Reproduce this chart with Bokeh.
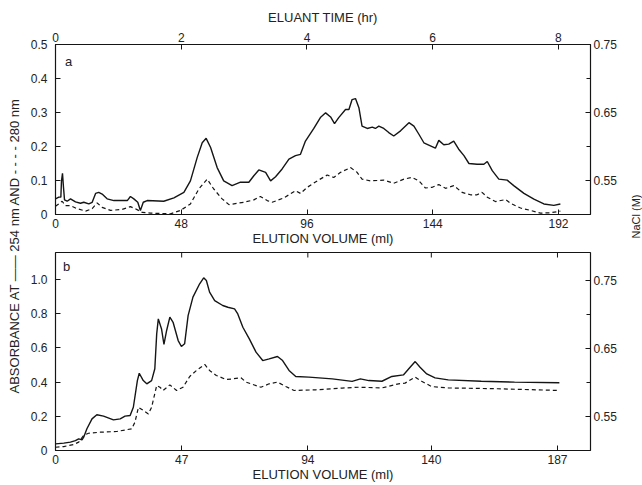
from math import pi
from bokeh.plotting import figure
from bokeh.models import Range1d, LinearAxis, FixedTicker, Label, PrintfTickFormatter
from bokeh.layouts import row, column
from bokeh.embed import file_html
from bokeh.resources import INLINE

# ---------------- data ----------------
# Panel a : elution volume (ml) vs absorbance
a_vol_254 = [0, 1.27, 2.04, 2.29, 2.67, 3.05, 3.44, 4.45, 5.73, 7.63, 9.54, 10.8, 12.7, 14.0,
             15.3, 16.5, 17.8, 19.7, 22.3, 27.4, 28.6, 29.9, 31.4, 32.4, 33.5, 35.0, 41.3,
             45.2, 49.0, 51.5, 54.1, 56.0, 57.5, 59.2, 61.7, 64.2, 67.4, 70.6, 73.8, 75.7,
             77.6, 80.2, 82.1, 84.0, 86.5, 89.1, 91.6, 93.5, 95.4, 98.6, 101.1, 103.1, 105.0,
             106.5, 108.1, 110.7, 112.0, 113.2, 114.5, 115.8, 117.0, 119.0, 120.9, 122.1,
             123.4, 125.3, 127.2, 129.1, 131.7, 134.9, 136.8, 138.7, 140.6, 143.1, 145.0,
             146.3, 148.2, 150.1, 152.0, 153.9, 155.9, 157.8, 160.9, 163.5, 164.8, 166.7,
             169.2, 172.4, 174.9, 178.8, 182.6, 186.4, 190.2, 192.7]
a_abs_254 = [0.046, 0.051, 0.051, 0.099, 0.121, 0.080, 0.043, 0.039, 0.046, 0.037, 0.033, 0.036,
             0.031, 0.036, 0.062, 0.065, 0.060, 0.046, 0.041, 0.041, 0.053, 0.046, 0.036, 0.012,
             0.036, 0.041, 0.039, 0.049, 0.065, 0.099, 0.168, 0.211, 0.224, 0.197, 0.138, 0.099,
             0.085, 0.095, 0.095, 0.114, 0.131, 0.124, 0.099, 0.111, 0.134, 0.163, 0.173, 0.177,
             0.216, 0.253, 0.285, 0.299, 0.287, 0.267, 0.285, 0.309, 0.309, 0.338, 0.341, 0.314,
             0.260, 0.253, 0.257, 0.253, 0.260, 0.253, 0.241, 0.231, 0.246, 0.270, 0.260, 0.236,
             0.211, 0.202, 0.195, 0.218, 0.205, 0.207, 0.216, 0.192, 0.173, 0.150, 0.148, 0.148,
             0.156, 0.129, 0.104, 0.101, 0.085, 0.062, 0.045, 0.031, 0.027, 0.031]
a_vol_280 = [0, 2.54, 3.82, 5.73, 8.27, 11.5, 14.0, 15.9, 17.8, 21.0, 25.4, 28.6, 30.5, 33.1,
             36.3, 43.9, 47.7, 51.5, 54.7, 57.9, 60.4, 63.6, 66.2, 71.9, 75.7, 78.2, 80.8, 82.7,
             87.2, 91.6, 93.5, 96.1, 99.9, 103.7, 106.2, 108.8, 112.6, 115.1, 117.0, 120.2,
             125.3, 129.1, 133.0, 136.1, 138.7, 141.2, 143.8, 146.3, 148.9, 152.0, 155.2, 158.4,
             160.9, 162.8, 164.8, 167.9, 171.8, 173.7, 177.5, 181.3, 185.1, 188.9, 192.7]
a_abs_280 = [0.024, 0.039, 0.026, 0.026, 0.017, 0.010, 0.017, 0.034, 0.021, 0.012, 0.015, 0.023,
             0.017, 0.006, 0.004, 0.002, 0.012, 0.031, 0.075, 0.104, 0.075, 0.046, 0.029, 0.036,
             0.043, 0.053, 0.041, 0.036, 0.049, 0.070, 0.062, 0.080, 0.099, 0.116, 0.109, 0.124,
             0.138, 0.124, 0.104, 0.099, 0.101, 0.092, 0.104, 0.109, 0.099, 0.078, 0.080, 0.088,
             0.077, 0.085, 0.065, 0.058, 0.058, 0.065, 0.051, 0.038, 0.044, 0.033, 0.019, 0.012,
             0.004, 0.005, 0.010]

# Panel b
b_vol_254 = [0, 3.09, 5.56, 7.41, 8.64, 9.88, 10.5, 11.7, 13.6, 15.4, 17.9, 21.6, 24.1, 25.9,
             27.8, 29.0, 30.5, 31.2, 32.7, 34.0, 35.8, 37.0, 37.7, 38.3, 39.5, 40.4, 41.4, 42.6,
             43.8, 45.7, 46.9, 48.1, 49.4, 51.2, 53.7, 55.2, 56.2, 57.4, 59.3, 62.3, 64.2, 66.7,
             67.9, 69.8, 72.2, 74.7, 77.2, 79.6, 82.7, 84.6, 87.0, 89.5, 94.4, 103.1, 110.5,
             113.6, 116.7, 121.6, 125.3, 129.6, 132.1, 134.0, 135.8, 138.3, 141.4, 146.3, 158.6,
             171.0, 187.7]
b_abs_254 = [0.039, 0.043, 0.049, 0.058, 0.068, 0.062, 0.078, 0.127, 0.185, 0.209, 0.201, 0.179,
             0.185, 0.201, 0.205, 0.253, 0.409, 0.452, 0.409, 0.390, 0.409, 0.478, 0.682, 0.770,
             0.711, 0.620, 0.702, 0.780, 0.750, 0.643, 0.608, 0.624, 0.789, 0.897, 0.975, 1.010,
             0.994, 0.926, 0.877, 0.848, 0.838, 0.828, 0.799, 0.721, 0.653, 0.575, 0.526, 0.536,
             0.550, 0.526, 0.468, 0.433, 0.429, 0.419, 0.404, 0.419, 0.409, 0.405, 0.433, 0.442,
             0.487, 0.520, 0.487, 0.448, 0.425, 0.413, 0.405, 0.400, 0.396]
b_vol_280 = [0, 3.09, 6.79, 8.64, 10.5, 12.3, 16.7, 22.8, 28.4, 29.6, 30.9, 32.7, 34.6, 35.8,
             37.7, 38.9, 40.1, 42.6, 45.1, 47.5, 50.0, 52.5, 55.6, 57.4, 59.9, 63.6, 66.0, 69.1,
             71.0, 72.8, 76.5, 79.6, 82.7, 85.8, 88.9, 96.9, 106.8, 113.0, 121.6, 127.8, 130.2,
             134.0, 136.4, 140.1, 146.3, 164.8, 187.7]
b_abs_280 = [0.019, 0.023, 0.035, 0.049, 0.088, 0.101, 0.107, 0.111, 0.127, 0.166, 0.253, 0.234,
             0.214, 0.253, 0.380, 0.370, 0.351, 0.384, 0.351, 0.370, 0.433, 0.468, 0.503, 0.468,
             0.439, 0.415, 0.419, 0.425, 0.400, 0.390, 0.370, 0.390, 0.400, 0.374, 0.351, 0.355,
             0.365, 0.370, 0.366, 0.390, 0.394, 0.429, 0.405, 0.374, 0.366, 0.361, 0.351]

# ticks / labels
a_vol_ticks = [0, 48, 96, 144, 192]
time_ticks = [0, 2, 4, 6, 8]
b_vol_ticks = [0, 47, 94, 140, 187]
a_abs_ticks = [0, 0.1, 0.2, 0.3, 0.4, 0.5]
b_abs_ticks = [0, 0.2, 0.4, 0.6, 0.8, 1.0]
nacl_ticks = [0.55, 0.65, 0.75]
nacl_minor = [0.60, 0.70]

y_title = "ABSORBANCE AT —— 254 nm AND - - - - 280 nm"
x_title = "ELUTION VOLUME (ml)"
top_title = "ELUANT TIME (hr)"
nacl_title = "NaCl (M)"

FONT = "Liberation Sans"
INK = "#151515"
TXT = "#222222"


def style(ax):
    ax.axis_line_color = INK
    ax.axis_line_width = 1.2
    ax.major_tick_in = 5
    ax.major_tick_out = 0
    ax.minor_tick_in = 4
    ax.minor_tick_out = 0
    ax.major_tick_line_color = INK
    ax.minor_tick_line_color = INK
    ax.major_label_text_font = FONT
    ax.major_label_text_font_size = "12px"
    ax.major_label_text_color = TXT
    ax.axis_label_text_font = FONT
    ax.axis_label_text_font_size = "13px"
    ax.axis_label_text_font_style = "normal"
    ax.axis_label_text_color = TXT
    ax.axis_label_standoff = 1


def base(width, height, xr, yr, **kw):
    p = figure(width=width, height=height, x_range=xr, y_range=yr,
               output_backend="svg", toolbar_location=None,
               x_axis_location=None, y_axis_location=None, **kw)
    p.grid.visible = False
    p.outline_line_color = INK
    p.background_fill_color = "white"
    p.border_fill_color = "white"
    return p


# ---------------- panel a ----------------
fa = base(600, 250, Range1d(0, 204.2), Range1d(0, 0.5),
          min_border_left=31, min_border_right=34, min_border_top=44, min_border_bottom=36)
fa.extra_x_ranges = {"time": Range1d(0, 8.51)}
fa.extra_y_ranges = {"nacl": Range1d(0.5, 0.75)}

ax = LinearAxis(ticker=FixedTicker(ticks=a_vol_ticks), axis_label=x_title)
style(ax); ax.major_label_standoff = 4; ax.axis_label_standoff = 0
fa.add_layout(ax, "below")
ax = LinearAxis(ticker=FixedTicker(ticks=a_abs_ticks), major_label_overrides={0: "0"})
style(ax); ax.major_label_standoff = 8
fa.add_layout(ax, "left")
ax = LinearAxis(x_range_name="time", ticker=FixedTicker(ticks=time_ticks), axis_label=top_title)
style(ax); ax.major_label_standoff = 3; ax.axis_label_standoff = 5
fa.add_layout(ax, "above")
ax = LinearAxis(y_range_name="nacl", ticker=FixedTicker(ticks=nacl_ticks, minor_ticks=nacl_minor))
style(ax); ax.major_label_standoff = 3
fa.add_layout(ax, "right")

fa.line(a_vol_254, a_abs_254, line_color=INK, line_width=1.4)
fa.line(a_vol_280, a_abs_280, line_color=INK, line_width=1.2, line_dash="4 3")
fa.add_layout(Label(x=5, y=0.45, text="a", text_font=FONT, text_font_size="13px",
                    text_align="center", text_baseline="middle", text_color=TXT))

# ---------------- panel b ----------------
fb = base(600, 235, Range1d(0, 199.3), Range1d(0, 1.158),
          min_border_left=31, min_border_right=31, min_border_top=2, min_border_bottom=35)
fb.extra_y_ranges = {"nacl": Range1d(0.5, 0.791)}

ax = LinearAxis(ticker=FixedTicker(ticks=b_vol_ticks), axis_label=x_title)
style(ax); ax.major_label_standoff = 4; ax.axis_label_standoff = 0
fb.add_layout(ax, "below")
ax = LinearAxis(ticker=FixedTicker(ticks=b_abs_ticks), formatter=PrintfTickFormatter(format="%.1f"),
                major_label_overrides={0: "0"})
style(ax); ax.major_label_standoff = 8
fb.add_layout(ax, "left")
ax = LinearAxis(y_range_name="nacl", ticker=FixedTicker(ticks=nacl_ticks, minor_ticks=nacl_minor))
style(ax); ax.major_label_standoff = 3
fb.add_layout(ax, "right")

# short inward ticks on the top edge of panel b (same volume ticks, no labels)
b_top = fb.y_range.end
b_tick = 5 / 198 * (fb.y_range.end - fb.y_range.start)
fb.segment(x0=b_vol_ticks, x1=b_vol_ticks, y0=[b_top] * len(b_vol_ticks),
           y1=[b_top - b_tick] * len(b_vol_ticks), line_color=INK, line_width=1)

fb.line(b_vol_254, b_abs_254, line_color=INK, line_width=1.4)
fb.line(b_vol_280, b_abs_280, line_color=INK, line_width=1.2, line_dash="4 3")
fb.add_layout(Label(x=4.1, y=1.076, text="b", text_font=FONT, text_font_size="13px",
                    text_align="center", text_baseline="middle", text_color=TXT))

# ---------------- side titles ----------------
fl = base(24, 485, Range1d(0, 1), Range1d(0, 1), min_border=0)
fl.outline_line_color = None
fl.add_layout(Label(x=14, y=240, x_units="screen", y_units="screen", text=y_title,
                    angle=pi / 2, text_font=FONT, text_font_size="13px",
                    text_align="center", text_baseline="middle", text_color=TXT))

fr = base(18, 485, Range1d(0, 1), Range1d(0, 1), min_border=0)
fr.outline_line_color = None
fr.add_layout(Label(x=11, y=269, x_units="screen", y_units="screen", text=nacl_title,
                    angle=pi / 2, text_font=FONT, text_font_size="11px",
                    text_align="center", text_baseline="middle", text_color=TXT))

layout = row(fl, column(fa, fb), fr)
open("out.html", "w").write(file_html(layout, INLINE))
